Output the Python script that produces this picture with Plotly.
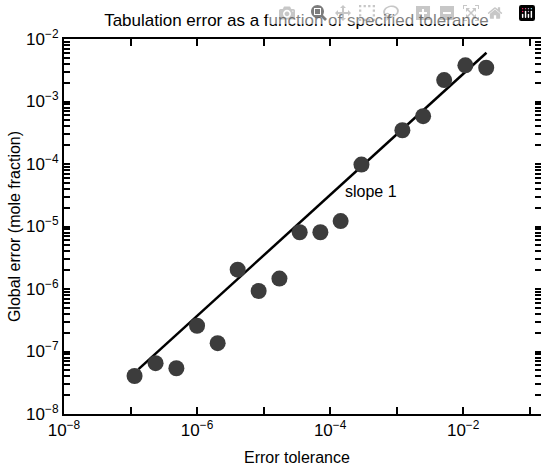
import plotly.graph_objects as go

# values (log-log)
tolerance = [1.15e-7, 2.38e-7, 4.89e-7, 1.0e-6, 2.04e-6, 4.08e-6, 8.43e-6, 1.73e-5,
             3.49e-5, 7.14e-5, 1.44e-4, 2.96e-4, 1.22e-3, 2.50e-3, 5.18e-3,
             1.08e-2, 2.22e-2]
global_error = [4.06e-8, 6.5e-8, 5.4e-8, 2.58e-7, 1.36e-7, 2.04e-6, 9.3e-7, 1.47e-6,
                8.1e-6, 8.1e-6, 1.22e-5, 9.8e-5, 3.47e-4, 5.82e-4, 2.2e-3,
                3.79e-3, 3.47e-3]

fit_x = [1.32e-7, 2.24e-2]
fit_y = [5.21e-8, 6.03e-3]

x_ticks = [1e-8, 1e-7, 1e-6, 1e-5, 1e-4, 1e-3, 1e-2, 1e-1]
x_tick_text = ['10<sup>−8</sup>', '', '10<sup>−6</sup>', '', '10<sup>−4</sup>', '',
               '10<sup>−2</sup>', '']
y_decades = [1e-8, 1e-7, 1e-6, 1e-5, 1e-4, 1e-3, 1e-2]
y_decade_text = ['10<sup>−8</sup>', '10<sup>−7</sup>', '10<sup>−6</sup>', '10<sup>−5</sup>',
                 '10<sup>−4</sup>', '10<sup>−3</sup>', '10<sup>−2</sup>']
# unlabelled ticks at 2..9 in every decade
y_ticks = list(y_decades) + [m * d for d in y_decades[:-1] for m in range(2, 10)]
y_tick_text = list(y_decade_text) + [''] * (len(y_ticks) - len(y_decades))

FONT = 'Liberation Sans, Arial, sans-serif'

fig = go.Figure()
fig.add_trace(go.Scatter(
    x=fit_x, y=fit_y, mode='lines',
    line=dict(color='black', width=2.5),
    showlegend=False, hoverinfo='skip',
))
fig.add_trace(go.Scatter(
    x=tolerance, y=global_error, mode='markers',
    marker=dict(size=16, color='#3c3c3c', line=dict(width=0)),
    showlegend=False,
))

fig.add_annotation(
    x=-3.39, y=-4.44, xref='x', yref='y',
    text='slope 1', showarrow=False,
    font=dict(family=FONT, size=16, color='black'),
)
# x title placed by hand so it sits just above the bottom edge
fig.add_annotation(
    x=0.488, y=-0.117, xref='paper', yref='paper',
    xanchor='center', yanchor='middle',
    text='Error tolerance', showarrow=False,
    font=dict(family=FONT, size=16, color='black'),
)

fig.update_layout(
    width=541, height=468,
    margin=dict(l=64, r=0, t=39, b=54),
    paper_bgcolor='white', plot_bgcolor='white',
    font=dict(family=FONT, size=16, color='black'),
    title=dict(text='Tabulation error as a function of specified tolerance',
               x=0.548, xanchor='center', y=0.957, yanchor='middle',
               font=dict(size=17)),
)
fig.update_xaxes(
    type='log', range=[-8, -0.83],
    tickmode='array', tickvals=x_ticks, ticktext=x_tick_text,
    ticks='inside', ticklen=7, tickwidth=2, tickcolor='black',
    showline=True, linewidth=2, linecolor='black', mirror='ticks',
    showgrid=False, zeroline=False, automargin=False,
    tickfont=dict(size=17),
)
fig.update_yaxes(
    type='log', range=[-8, -2],
    tickmode='array', tickvals=y_ticks, ticktext=y_tick_text,
    ticks='inside', ticklen=6, tickwidth=2, tickcolor='black',
    showline=True, linewidth=2, linecolor='black', mirror='ticks',
    showgrid=False, zeroline=False, automargin=False,
    tickfont=dict(size=17),
    title=dict(text='Global error (mole fraction)', standoff=2, font=dict(size=16)),
)

# drop the page's default body margin so the figure starts at the window corner
fig.write_html('out.html', post_script="document.body.style.margin='0';")
